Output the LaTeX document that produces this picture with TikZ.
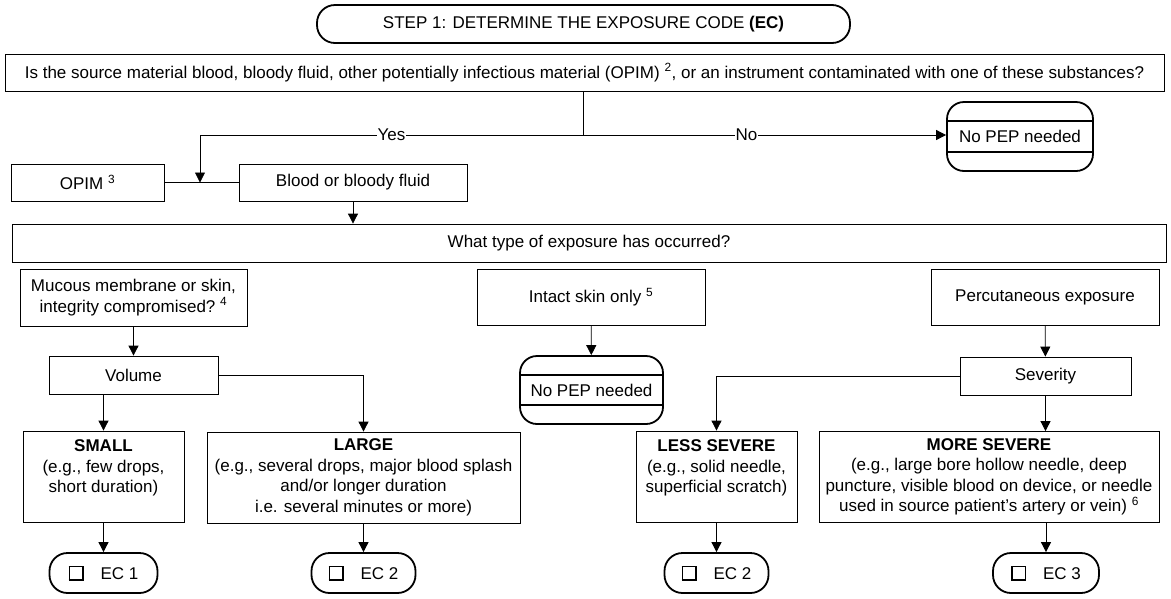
\documentclass[tikz,border=0pt]{standalone}
\usepackage{fontspec}
\setmainfont{Liberation Sans}
\usetikzlibrary{arrows.meta}

\newcommand{\tickbox}{{\fboxsep=0pt\fboxrule=1.5pt\fbox{\rule{0pt}{12pt}\rule{12pt}{0pt}}}}

\begin{document}
\begin{tikzpicture}[x=1pt,y=-1pt,
    font=\fontsize{17pt}{20.5pt}\selectfont,
    box/.style={draw,line width=0.8pt,inner sep=0pt,align=center},
    term/.style={draw,line width=1.8pt,rounded corners=18pt,inner sep=0pt,align=center},
    nopep/.style={term,rounded corners=17pt,path picture={
        \draw[line width=1.8pt] ([yshift=-19pt]path picture bounding box.north west) -- ([yshift=-19pt]path picture bounding box.north east);
        \draw[line width=1.8pt] ([yshift=19pt]path picture bounding box.south west) -- ([yshift=19pt]path picture bounding box.south east);}},
    lbl/.style={fill=white,inner sep=1pt}]

  \useasboundingbox (0,0) rectangle (1171,598);

  \begin{scope}[every node/.style={term}]
    \node (title) [minimum width=533,minimum height=38] at (583.5,24) {STEP 1: DETERMINE THE EXPOSURE CODE \textbf{(EC)}};
    \node (ec1)  [minimum width=108,minimum height=40] at (103.5,573) {\tickbox\hspace{17pt}EC 1};
    \node (ec2a) [minimum width=104,minimum height=40] at (363.5,573) {\tickbox\hspace{17pt}EC 2};
    \node (ec2b) [minimum width=104,minimum height=40] at (716.5,573) {\tickbox\hspace{17pt}EC 2};
    \node (ec3)  [minimum width=106,minimum height=40] at (1046,573) {\tickbox\hspace{17pt}EC 3};
  \end{scope}

  \begin{scope}[every node/.style={nopep}]
    \node (nopep1) [minimum width=146,minimum height=69] at (1020,136.5) {No PEP needed};
    \node (nopep2) [minimum width=143,minimum height=68] at (591.5,390) {No PEP needed};
  \end{scope}

  \begin{scope}[every node/.style={box}]
    \node (src) [minimum width=1159,minimum height=37] at (584.5,72.5)
      {Is the source material blood, bloody fluid, other potentially infectious material (OPIM)~\textsuperscript{2}, or an instrument contaminated with one of these substances?};
    \node (opim)  [minimum width=153,minimum height=37] at (87.5,182.5) {OPIM~\textsuperscript{3}};
    \node (blood) [minimum width=228,minimum height=37] at (353,182.5) {Blood or bloody fluid};
    \node (kind)  [minimum width=1154,minimum height=38] at (589,243) {What type of exposure has occurred?};
    \node (mucous) [minimum width=227,minimum height=57] at (133.5,297.5) {Mucous membrane or skin,\\integrity compromised?~\textsuperscript{4}};
    \node (intact) [minimum width=228,minimum height=56] at (591,297) {Intact skin only~\textsuperscript{5}};
    \node (percut) [minimum width=228,minimum height=56] at (1045,297) {Percutaneous exposure};
    \node (volume)   [minimum width=169,minimum height=38] at (133.5,375) {Volume};
    \node (severity) [minimum width=171,minimum height=38] at (1045.5,376) {Severity};
    \node (small) [minimum width=161,minimum height=91] at (103.5,476.5)
      {\textbf{SMALL}\\(e.g., few drops,\\short duration)\\\mbox{}};
    \node (large) [minimum width=313,minimum height=91] at (363.5,477.5)
      {\textbf{LARGE}\\(e.g., several drops, major blood splash\\and/or longer duration\\i.e. several minutes or more)};
    \node (less) [minimum width=161,minimum height=91] at (716.5,476.5)
      {\textbf{LESS SEVERE}\\(e.g., solid needle,\\superficial scratch)\\\mbox{}};
    \node (more) [minimum width=340,minimum height=91] at (989,477)
      {\textbf{MORE SEVERE}\\(e.g., large bore hollow needle, deep\\puncture, visible blood on device, or needle\\used in source patient’s artery or vein)~\textsuperscript{6}};
  \end{scope}

  \coordinate (split) at (583,135);
  \coordinate (yes) at (200,135);
  \coordinate (join) at (200,182.5);

  \begin{scope}[line width=0.8pt,>={Triangle[length=10pt,width=10pt]}]

    \draw (src.south -| split) -- (split);
    \draw[->] (split) -- node[lbl] {Yes} (yes) -- (join);
    \draw[->] (split) -- node[lbl,pos=0.45] {No} (split -| nopep1.west);
    \draw (opim.east) -- (blood.west);

    \begin{scope}[every edge/.style={draw,->}]
      \path (blood) edge (blood.south |- kind.north);
      \path (mucous) edge (volume);
      \path (small.north |- volume.south) edge (small);
      \path (intact) edge (nopep2);
      \path (percut) edge (severity);
      \path (severity) edge (severity.south |- more.north);
      \path (small) edge (ec1);
      \path (large) edge (ec2a);
      \path (less) edge (ec2b);
      \path (ec3.north |- more.south) edge (ec3);
    \end{scope}

    \draw[->] (volume.east) -| (large.north);
    \draw[->] (severity.west) -| (less.north);

  \end{scope}

\end{tikzpicture}
\end{document}
